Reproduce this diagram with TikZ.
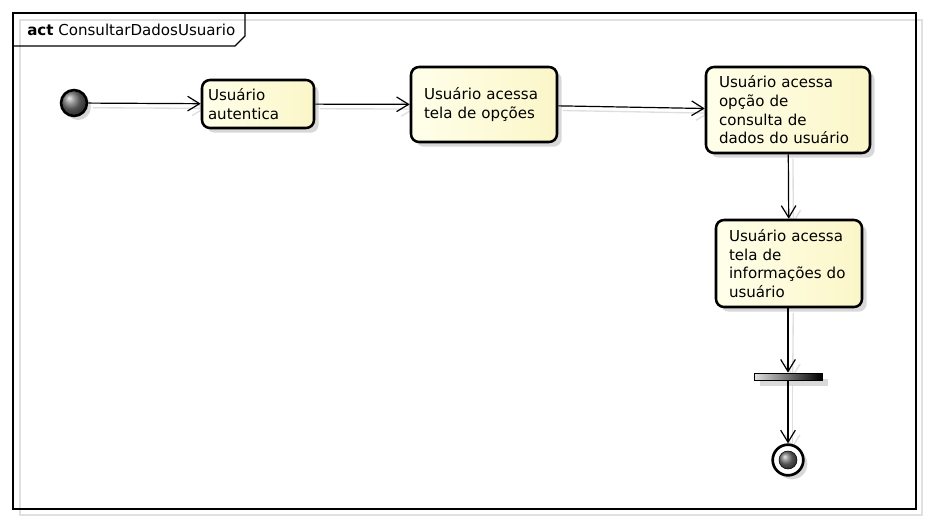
\documentclass[tikz,border=0pt]{standalone}
\usepackage{fontspec}
\setmainfont{DejaVu Sans}
\usetikzlibrary{arrows.meta,shadows,backgrounds}
\definecolor{nodeL}{RGB}{255,255,234}
\definecolor{nodeR}{RGB}{251,246,200}
\begin{document}
\begin{tikzpicture}[x=0.75pt,y=-0.75pt,
  act/.style={draw=black, line width=1.9pt, rounded corners=6pt,
    left color=nodeL, right color=nodeR,
    drop shadow={shadow xshift=3.5pt, shadow yshift=-3.5pt, fill=black!30, opacity=0.5},
    align=left, font=\fontsize{11.3}{14}\selectfont, inner ysep=0pt, inner xsep=9.75pt},
  flow/.style={draw=black, line width=0.9pt, -{Straight Barb[length=9pt,width=11pt,line width=0.9pt]}},
  ghost/.style={draw=black!13, line width=1pt, -{Straight Barb[length=9pt,width=11pt,line width=1pt]},
    transform canvas={xshift=3.5pt,yshift=-3.5pt}},
  ball/.style={circle, draw=black, line width=1.9pt, inner sep=0pt, shading=ball, ball color=black!55},
]
\useasboundingbox (0,0) rectangle (929,522);

% frame
\coordinate (fA) at (13,13);
\coordinate (fB) at (916,509);
\draw[line width=1.2pt] (fA) rectangle (fB);
\draw[line width=1pt] (13,46) -- (235,46) -- (245,36) -- (245,13);
\node[anchor=base west, inner sep=0pt, font=\fontsize{11.3}{13}\selectfont] (title) at (27,35) {\textbf{act} ConsultarDadosUsuario};

% nodes
\node[ball, minimum size=19.5pt,
  drop shadow={shadow xshift=3pt, shadow yshift=-3pt, fill=black!30, opacity=0.5}] (init) at (74,103) {};

\node[act, minimum width=84pt, minimum height=36pt, text width=75pt, inner xsep=4.5pt] (n1) at (258,104) {Usuário\\autentica};
\node[act, minimum width=109.5pt, minimum height=56.25pt, text width=90pt] (n2) at (484,104.5) {Usuário acessa\\tela de opções};
\node[act, minimum width=123pt, minimum height=64.5pt, text width=103.5pt] (n3) at (788,110) {Usuário acessa\\opção de\\consulta de\\dados do usuário};
\node[act, minimum width=109.5pt, minimum height=65.25pt, text width=90pt] (n4) at (789,263.5) {Usuário acessa\\tela de\\informações do\\usuário};

\node[draw=black, line width=0.6pt, minimum width=51pt, minimum height=5.25pt, inner sep=0pt,
  left color=black!12, right color=black,
  drop shadow={shadow xshift=4.5pt, shadow yshift=-4.5pt, fill=black!25, opacity=0.6}] (bar) at (788,376.5) {};

\node[circle, draw=black, line width=2pt, fill=white, minimum size=23pt, inner sep=0pt,
  drop shadow={shadow xshift=3pt, shadow yshift=-3pt, fill=black!30, opacity=0.5}] (fin) at (788,460) {};
\node[circle, inner sep=0pt, minimum size=13.5pt, shading=ball, ball color=black!55, draw=black, line width=0.4pt] (finin) at (fin.center) {};

% connector shadows
\begin{pgfonlayer}{background}
  \draw[black!12, line width=1pt] (20,20) rectangle (922,515);
  \draw[ghost] (init) -- (n1);
  \draw[ghost] (n1) -- (n2);
  \draw[ghost] (n2) -- (n3);
  \draw[ghost] (n3) -- (n4);
  \draw[ghost] (n4) -- (bar);
  \draw[ghost] (bar) -- (fin);
\end{pgfonlayer}

% connectors
\draw[flow] (init) -- (n1);
\draw[flow] (n1) -- (n2);
\draw[flow] (n2) -- (n3);
\draw[flow] (n3) -- (n4);
\draw[flow] (n4.south -| bar.north) -- (bar.north);
\draw[flow] (bar) -- (fin);
\end{tikzpicture}
\end{document}
